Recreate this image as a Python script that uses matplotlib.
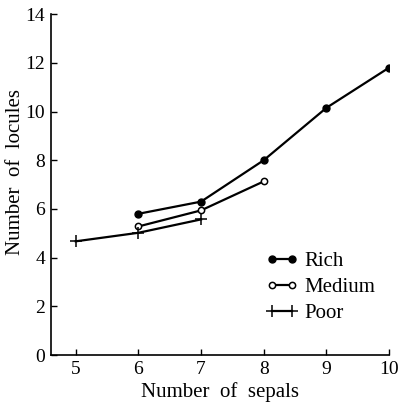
import matplotlib.pyplot as plt

# number of locules against number of sepals, by soil condition
rich_x = [6, 7, 8, 9, 10]
rich_y = [5.8, 6.3, 8.0, 10.15, 11.8]

medium_x = [6, 7, 8]
medium_y = [5.28, 5.94, 7.13]

poor_x = [5, 6, 7]
poor_y = [4.67, 5.02, 5.57]

xticks = [5, 6, 7, 8, 9, 10]
yticks = [0, 2, 4, 6, 8, 10, 12, 14]

plt.rcParams['font.family'] = ['Liberation Serif', 'DejaVu Serif']

fig = plt.figure(figsize=(3.99, 4.03), dpi=100)
ax = fig.add_axes([0.127, 0.119, 0.848, 0.846])

ax.plot(rich_x, rich_y, color='black', lw=1.6, marker='o', ms=5,
        mfc='black', mec='black', label='Rich')
ax.plot(medium_x, medium_y, color='black', lw=1.6, marker='o', ms=4.5,
        mfc='white', mec='black', mew=1.1, label='Medium')
ax.plot(poor_x, poor_y, color='black', lw=1.6, marker='+', ms=8,
        mew=1.1, label='Poor')

ax.set_xlim(4.6, 10)
ax.set_ylim(0, 14)
ax.set_xticks(xticks)
ax.set_yticks(yticks)
ax.tick_params(direction='in', length=4, width=1, labelsize=14, pad=4)

ax.spines['top'].set_visible(False)
ax.spines['right'].set_visible(False)
ax.spines['left'].set_linewidth(1.2)
ax.spines['bottom'].set_linewidth(1.2)

ax.set_xlabel('Number  of  sepals', fontsize=15, labelpad=3)
ax.set_ylabel('Number  of  locules', fontsize=15)
ax.yaxis.set_label_coords(-0.076, 0.537)

leg = ax.legend(loc='upper left', bbox_to_anchor=(0.611, 0.328),
                borderaxespad=0, frameon=False,
                numpoints=2, handlelength=1.55, handletextpad=0.3,
                labelspacing=0.3, fontsize=15)

plt.savefig('out.png', dpi=100)
